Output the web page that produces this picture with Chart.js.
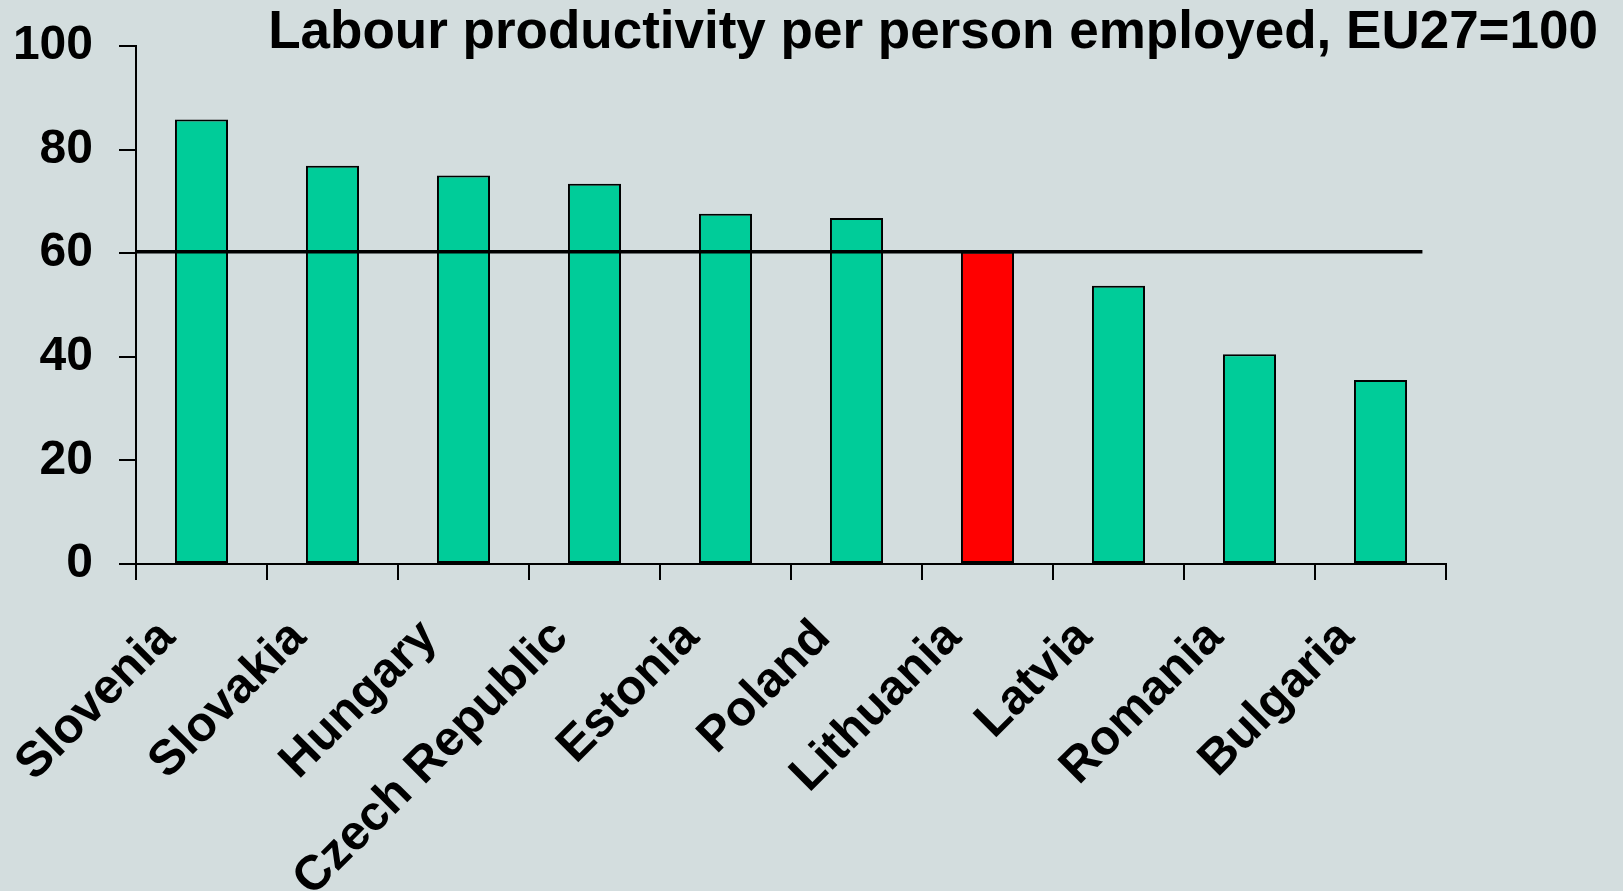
<!DOCTYPE html>
<html>
<head>
<meta charset="utf-8">
<script src="https://cdn.jsdelivr.net/npm/chart.js@4/dist/chart.umd.min.js"></script>
<style>
  html, body { margin: 0; padding: 0; background: #D3DDDE; }
  canvas { display: block; }
</style>
</head>
<body>
<canvas id="c" width="1623" height="891"></canvas>
<script>
// ---- data ----
const categories = ['Slovenia', 'Slovakia', 'Hungary', 'Czech Republic', 'Estonia', 'Poland', 'Lithuania', 'Latvia', 'Romania', 'Bulgaria'];
const productivity = [85.8, 76.9, 75.0, 73.4, 67.6, 66.8, 60.3, 53.7, 40.5, 35.5];
const highlightCountry = 'Lithuania';
const yTickValues = [0, 20, 40, 60, 80, 100];
const referenceLevel = 60.3;          // horizontal reference line (Lithuania's level)
const referenceSpan = [0, 9.82];      // extent of the line in category units
const titleText = 'Labour productivity per person employed, EU27=100';

// ---- styles ----
const GREEN = '#00CC99';
const RED = '#FF0000';
const FONT = '"Liberation Sans", Arial, Helvetica, sans-serif';

const barColors = categories.map(c => c === highlightCountry ? RED : GREEN);

new Chart(document.getElementById('c'), {
  type: 'bar',
  data: {
    labels: categories,
    datasets: [
      {
        type: 'line',
        xAxisID: 'xl',
        yAxisID: 'y',
        data: referenceSpan.map(x => ({ x: x, y: referenceLevel })),
        borderColor: '#000000',
        borderWidth: 3.5,
        pointRadius: 0,
        fill: false,
        order: 0
      },
      {
        type: 'bar',
        xAxisID: 'x',
        yAxisID: 'y',
        data: productivity,
        backgroundColor: barColors,
        borderColor: '#000000',
        borderWidth: 2,
        borderSkipped: false,
        grouped: false,
        categoryPercentage: 1.0,
        barPercentage: 0.405,
        order: 1
      }
    ]
  },
  options: {
    responsive: false,
    animation: false,
    layout: { padding: { left: 0, right: 25, top: 0, bottom: 0 } },
    plugins: {
      legend: { display: false },
      tooltip: { enabled: false },
      title: {
        display: true,
        text: titleText,
        align: 'end',
        color: '#000000',
        font: { family: FONT, size: 53, weight: 'bold', lineHeight: 1.2 },
        padding: { top: 1.4, bottom: -19 }
      }
    },
    scales: {
      x: {
        type: 'category',
        position: 'bottom',
        offset: true,
        grid: { display: true, offset: true, drawOnChartArea: false, drawTicks: true, tickLength: 16, color: '#000000', lineWidth: 2 },
        border: { display: true, color: '#000000', width: 2 },
        ticks: {
          color: '#000000',
          font: { family: FONT, size: 49, weight: 'bold' },
          minRotation: 45,
          maxRotation: 45,
          autoSkip: false,
          padding: 29,
          labelOffset: -34
        },
        afterFit: s => { s.height = 327; }
      },
      xl: {
        type: 'linear',
        position: 'bottom',
        display: false,
        offset: false,
        grid: { offset: false },
        min: 0,
        max: categories.length
      },
      y: {
        type: 'linear',
        position: 'left',
        min: 0,
        max: 100,
        afterBuildTicks: s => { s.ticks = yTickValues.map(v => ({ value: v })); },
        grid: { display: true, drawOnChartArea: false, drawTicks: true, tickLength: 17, color: '#000000', lineWidth: 2 },
        border: { display: true, color: '#000000', width: 2 },
        ticks: {
          color: '#000000',
          font: { family: FONT, size: 48, weight: 'bold' },
          padding: 26
        },
        afterFit: s => { s.width = 136; s.paddingTop = 0; s.paddingBottom = 0; }
      },
      spacer: {
        type: 'linear',
        position: 'right',
        display: true,
        grid: { display: false },
        border: { display: false },
        ticks: { display: false },
        afterFit: s => { s.width = 152; s.paddingTop = 0; s.paddingBottom = 0; }
      }
    }
  }
});
</script>
</body>
</html>
